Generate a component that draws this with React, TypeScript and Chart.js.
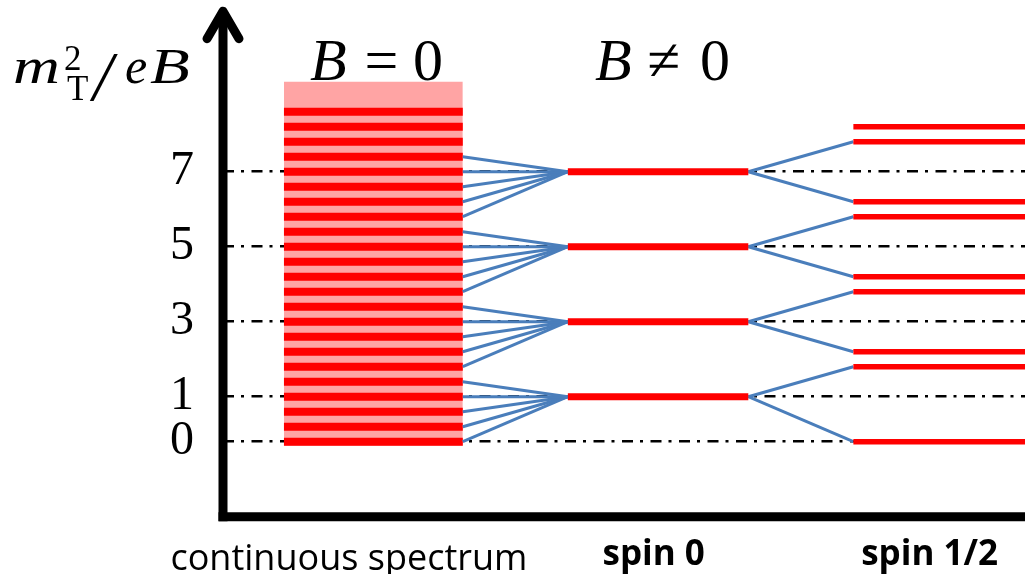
import React, { useEffect, useRef } from 'react';
import { Chart, registerables } from 'chart.js';

Chart.register(...registerables);

// Vertical positions are expressed in "level slots": one slot per continuum stripe.
const yTickSlots = [0, 3, 8, 13, 18];
const yTickLabels = ['0', '1', '3', '5', '7'];

// continuum (B = 0)
const continuumStripes = [0, 1, 2, 3, 4, 5, 6, 7, 8, 9, 10, 11, 12, 13, 14, 15, 16, 17, 18, 19, 20, 21, 22];
const continuumTop = 24;
const continuumBottom = -0.27;
const continuumX = [0.76, 2.99];

// spin 0 Landau levels
const spin0Levels = [3, 8, 13, 18];
const spin0X = [4.3, 6.55];
const fanSources = [
  [4, 3, 2, 1, 0],
  [9, 8, 7, 6, 5],
  [14, 13, 12, 11, 10],
  [19, 18, 17, 16, 15],
];

// spin 1/2 levels
const spinHalfLevels = [0, 5, 6, 10, 11, 15, 16, 20, 21];
const spinHalfX = [7.86, 10];
const spinHalfLinks = [
  [5, 0],
  [10, 6],
  [15, 11],
  [20, 16],
];

// bottom category labels
const categoryTicks = [1.57, 5.37, 8.81];
const categoryLabels = ['continuous spectrum', 'spin 0', 'spin 1/2'];

const RED = '#FF0000';
const PINK = '#FFA4A4';
const BLUE = '#4A7EBB';

function seg(x0: number, y0: number, x1: number, y1: number) {
  return [
    { x: x0, y: y0 },
    { x: x1, y: y1 },
  ];
}

const decorPlugin = {
  id: 'diagramDecor',
  afterDraw(chart: any) {
    const { ctx, chartArea, scales } = chart;
    const xs = scales.x;
    const x0 = chartArea.left;
    const yb = chartArea.bottom;
    const top = chartArea.top;
    ctx.save();
    // axes
    ctx.strokeStyle = '#000';
    ctx.lineWidth = 9;
    ctx.lineCap = 'butt';
    ctx.beginPath();
    ctx.moveTo(x0, yb + 4.5);
    ctx.lineTo(x0, top + 5);
    ctx.stroke();
    ctx.beginPath();
    ctx.moveTo(x0 - 4.5, yb);
    ctx.lineTo(chartArea.right, yb);
    ctx.stroke();
    // arrow head
    ctx.lineCap = 'round';
    ctx.lineJoin = 'round';
    ctx.beginPath();
    ctx.moveTo(x0 - 16, top + 32);
    ctx.lineTo(x0, top + 4.5);
    ctx.lineTo(x0 + 16, top + 32);
    ctx.stroke();

    ctx.fillStyle = '#000';
    ctx.textBaseline = 'alphabetic';
    ctx.textAlign = 'left';
    const serif = '"Liberation Serif", "DejaVu Serif", serif';

    // titles above the blocks
    const c1 = (xs.getPixelForValue(continuumX[0]) + xs.getPixelForValue(continuumX[1])) / 2;
    const c2 = (xs.getPixelForValue(spin0X[0]) + xs.getPixelForValue(spin0X[1])) / 2;
    const base = 80;
    ctx.font = `italic 60px ${serif}`;
    ctx.fillText('B', c1 - 63.5, base);
    ctx.fillText('B', c2 - 63, base);
    ctx.font = `60px ${serif}`;
    ctx.textAlign = 'center';
    ctx.fillText('=', c1 + 8, base);
    ctx.fillText('\u2260', c2 + 6, base);
    ctx.textAlign = 'left';
    ctx.fillText('0', c1 + 39.5, base);
    ctx.fillText('0', c2 + 42, base);

    // axis title  m_T^2 / eB
    const drawStretched = (t: string, x: number, y: number, sx: number) => {
      ctx.save();
      ctx.translate(x, y);
      ctx.scale(sx, 1);
      ctx.fillText(t, 0, 0);
      ctx.restore();
    };
    ctx.font = `italic 50px ${serif}`;
    drawStretched('m', 13, 83, 1.3);
    ctx.font = `35px ${serif}`;
    ctx.fillText('2', 64, 70);
    ctx.font = `35px ${serif}`;
    ctx.fillText('T', 67, 100);
    ctx.font = `italic 70px ${serif}`;
    ctx.fillText('/', 93, 100);
    ctx.font = `italic 50px ${serif}`;
    ctx.fillText('e', 125, 83);
    drawStretched('B', 150, 83, 1.3);
    ctx.restore();
  },
};

export default function App() {
  const ref = useRef<HTMLCanvasElement | null>(null);

  useEffect(() => {
    if (!ref.current) return;
    const datasets: any[] = [];

    // pink continuum background
    datasets.push({
      data: seg(continuumX[0], continuumTop, continuumX[1], continuumTop),
      borderWidth: 0,
      borderColor: 'rgba(0,0,0,0)',
      backgroundColor: PINK,
      fill: { value: continuumBottom },
      order: 6,
    });

    continuumStripes.forEach((k) => {
      datasets.push({
        data: seg(continuumX[0], k, continuumX[1], k),
        borderColor: RED,
        borderWidth: 8,
        fill: false,
        order: 5,
      });
    });

    spin0Levels.forEach((lvl, i) => {
      fanSources[i].forEach((src) => {
        datasets.push({
          data: seg(continuumX[1], src, spin0X[0], lvl),
          borderColor: BLUE,
          borderWidth: 3,
          fill: false,
          order: 4,
        });
      });
      spinHalfLinks[i].forEach((dst) => {
        datasets.push({
          data: seg(spin0X[1], lvl, spinHalfX[0], dst),
          borderColor: BLUE,
          borderWidth: 3,
          fill: false,
          order: 4,
        });
      });
      datasets.push({
        data: seg(spin0X[0], lvl, spin0X[1], lvl),
        borderColor: RED,
        borderWidth: 7,
        fill: false,
        order: 1,
      });
    });

    spinHalfLevels.forEach((k) => {
      datasets.push({
        data: seg(spinHalfX[0], k, spinHalfX[1], k),
        borderColor: RED,
        borderWidth: 5.5,
        fill: false,
        order: 1,
      });
    });

    const chart = new Chart(ref.current, {
      type: 'line',
      data: { datasets },
      plugins: [decorPlugin],
      options: {
        responsive: false,
        animation: false,
        devicePixelRatio: 1,
        layout: { padding: { top: 6.7, left: 0, right: 0, bottom: 0 } },
        plugins: {
          legend: { display: false },
          tooltip: { enabled: false },
          title: { display: false },
        },
        elements: {
          point: { radius: 0, hoverRadius: 0 },
          line: { tension: 0, capBezierPoints: false },
        },
        scales: {
          x: {
            type: 'linear',
            min: 0,
            max: 10,
            grid: { display: false },
            border: { display: false },
            afterBuildTicks: (s: any) => {
              s.ticks = categoryTicks.map((v) => ({ value: v }));
            },
            afterFit: (s: any) => {
              s.height = 57.3;
              s.paddingLeft = 0;
              s.paddingRight = 0;
            },
            ticks: {
              autoSkip: false,
              maxRotation: 0,
              minRotation: 0,
              padding: 13,
              color: '#000',
              font: (ctx: any) => ({
                family: '"Open Sans", "Noto Sans", sans-serif',
                size: ctx.index === 0 ? 36 : 35,
                weight: ctx.index === 0 ? 'normal' : 'bold',
                lineHeight: ctx.index === 0 ? 1.2 : 0.99,
              }),
              callback: (_v: any, i: number) => categoryLabels[i],
            },
          },
          y: {
            type: 'linear',
            min: -5,
            max: 29,
            border: { display: false, dash: [11, 7, 3, 7.5] },
            grid: { color: '#000', lineWidth: 2.5, drawTicks: false },
            afterBuildTicks: (s: any) => {
              s.ticks = yTickSlots.map((v) => ({ value: v }));
            },
            afterFit: (s: any) => {
              s.width = 223;
              s.paddingTop = 0;
              s.paddingBottom = 0;
            },
            ticks: {
              autoSkip: false,
              padding: 29,
              color: '#000',
              font: { family: '"Liberation Serif", serif', size: 48 },
              callback: (_v: any, i: number) => yTickLabels[i],
            },
          },
        },
      } as any,
    });
    return () => chart.destroy();
  }, []);

  return (
    <div style={{ position: 'fixed', left: 0, top: 0, width: 1025, height: 574, background: '#fff' }}>
      <canvas ref={ref} width={1025} height={574} style={{ display: 'block', width: 1025, height: 574 }} />
    </div>
  );
}
